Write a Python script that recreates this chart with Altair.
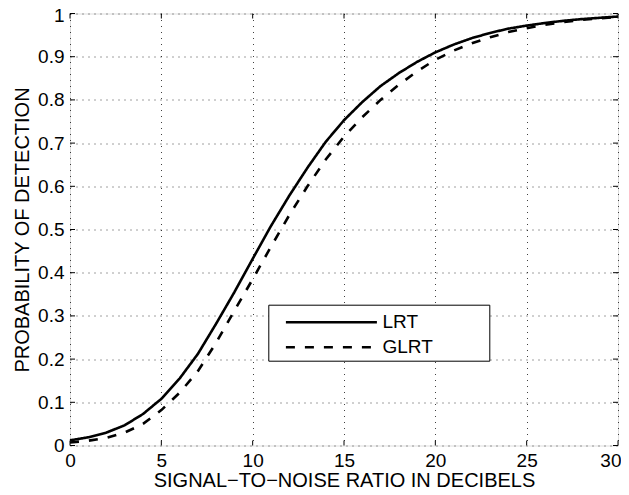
import altair as alt
import pandas as pd

# ---- data ----
snr_db = list(range(31))
pd_lrt = [0.012, 0.019, 0.030, 0.047, 0.073, 0.108, 0.155, 0.212, 0.282, 0.355,
          0.432, 0.508, 0.578, 0.643, 0.703, 0.753, 0.795, 0.832, 0.862, 0.888,
          0.910, 0.928, 0.943, 0.955, 0.965, 0.972, 0.978, 0.983, 0.987, 0.990, 0.993]
pd_glrt = [0.007, 0.011, 0.018, 0.030, 0.050, 0.082, 0.122, 0.172, 0.238, 0.312,
           0.385, 0.460, 0.533, 0.600, 0.662, 0.715, 0.760, 0.800, 0.835, 0.866,
           0.893, 0.914, 0.931, 0.945, 0.957, 0.966, 0.974, 0.980, 0.985, 0.989, 0.992]
series_names = ["LRT", "GLRT"]
x_ticks = [0, 5, 10, 15, 20, 25, 30]
y_ticks = [0, 0.1, 0.2, 0.3, 0.4, 0.5, 0.6, 0.7, 0.8, 0.9, 1]
x_title = "SIGNAL\u2212TO\u2212NOISE RATIO IN DECIBELS"
y_title = "PROBABILITY OF DETECTION"

W, H = 548, 432
FONT = "Liberation Sans"
LABEL_PAD = "\u00a0" * 10 + "\u200b"

df = pd.DataFrame({
    "snr": snr_db + snr_db,
    "pd": pd_lrt + pd_glrt,
    "test": [series_names[0]] * len(snr_db) + [series_names[1]] * len(snr_db),
})
xt = pd.DataFrame({"snr": x_ticks})
yt = pd.DataFrame({"pd": y_ticks})

xs = alt.Scale(domain=[0, 30], nice=False, zero=False)
ys = alt.Scale(domain=[0, 1], nice=False, zero=False)

x_last = f"datum.value == {x_ticks[-1]}"
y_last = f"datum.value == {y_ticks[-1]}"

x_axis = alt.Axis(
    values=x_ticks, title=x_title, grid=True, gridDash=[1, 5], gridColor="#000",
    gridOpacity=0.75, gridWidth=1, ticks=False, domain=False, labelFlush=False,
    labelAlign={"condition": {"test": x_last, "value": "right"}, "value": "center"},
    labelOffset={"condition": {"test": x_last, "value": 3}, "value": 0},
    labelFontSize=19, labelPadding=6, labelFont=FONT, labelColor="black",
    titleFont=FONT, titleFontSize=20, titleFontWeight="normal", titleColor="black",
    titleBaseline="alphabetic", titleY=41, titleX=W / 2)
y_axis = alt.Axis(
    values=y_ticks, title=y_title, grid=True, gridDash=[1, 5], gridColor="#000",
    gridOpacity=0.75, gridWidth=1, ticks=False, domain=False, labelFlush=False,
    labelOffset={"condition": {"test": y_last, "value": 1.5}, "value": 0},
    format="~g",
    labelFontSize=19, labelPadding=6, labelFont=FONT, labelColor="black",
    titleFont=FONT, titleFontSize=20, titleFontWeight="normal", titleColor="black",
    titleX=-38, titleY=H / 2, titleBaseline="bottom", titleAngle=270)

lines = alt.Chart(df).mark_line(color="black", strokeWidth=2.6, strokeCap="butt").encode(
    x=alt.X("snr:Q", scale=xs, axis=x_axis),
    y=alt.Y("pd:Q", scale=ys, axis=y_axis),
    strokeDash=alt.StrokeDash("test:N", scale=alt.Scale(domain=series_names, range=[[1, 0], [9, 10]]),
        legend=alt.Legend(title=None, orient="none", legendX=198.3, legendY=291.2,
                          padding=3, rowPadding=0, symbolType="M0,0H7", symbolSize=676,
                          symbolStrokeColor="black", symbolStrokeWidth=2.6,
                          symbolFillColor="transparent", symbolOffset=0.1, labelOffset=82.1,
                          labelFont=FONT, labelFontSize=19, labelColor="black",
                          labelExpr="datum.label + '" + LABEL_PAD + "'",
                          strokeColor="black", fillColor="white")),
)

tick_style = dict(color="black", strokeWidth=1)
bottom = alt.Chart(xt).mark_rule(**tick_style).encode(
    x=alt.X("snr:Q", scale=xs, axis=x_axis), y=alt.value(H), y2=alt.value(H - 5))
top = alt.Chart(xt).mark_rule(**tick_style).encode(
    x=alt.X("snr:Q", scale=xs, axis=x_axis), y=alt.value(0), y2=alt.value(5))
left = alt.Chart(yt).mark_rule(**tick_style).encode(
    y=alt.Y("pd:Q", scale=ys, axis=y_axis), x=alt.value(0), x2=alt.value(5))
right = alt.Chart(yt).mark_rule(**tick_style).encode(
    y=alt.Y("pd:Q", scale=ys, axis=y_axis), x=alt.value(W), x2=alt.value(W - 5))

chart = alt.layer(lines, bottom, top, left, right).properties(
    width=W, height=H,
    autosize=alt.AutoSizeParams(type="none"),
    padding={"left": 62, "top": 5.5, "right": 3, "bottom": 41.5},
).configure_view(stroke="black", strokeWidth=1.2).configure(background="white")

chart.save("out.html", embed_options={"renderer": "svg", "actions": False})
